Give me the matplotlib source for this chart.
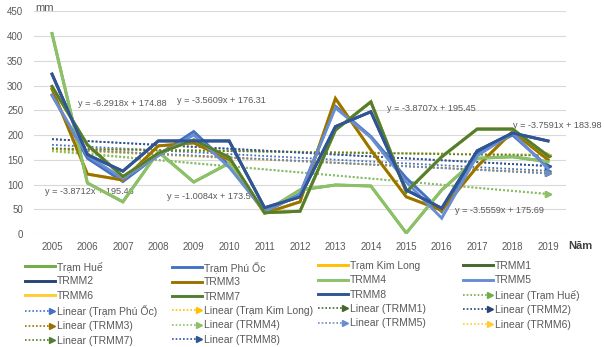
import matplotlib
matplotlib.use("Agg")
import matplotlib.pyplot as plt
import numpy as np
from matplotlib.lines import Line2D
from matplotlib.legend_handler import HandlerBase

plt.rcParams['font.family'] = ['Liberation Sans', 'DejaVu Sans']

years = [str(y) for y in range(2005, 2020)]

series_names = ["Trạm Huế", "Trạm Phú Ốc", "Trạm Kim Long", "TRMM1", "TRMM2",
                "TRMM3", "TRMM4", "TRMM5", "TRMM6", "TRMM7", "TRMM8"]

tram_hue    = [405, 103, 65, 166, 105, 143, 45, 89, 99, 97, 2, 89, 153, 156, 146]
tram_phu_oc = [281, 153, 106, 160, 207, 139, 44, 81, 258, 197, 113, 45, 163, 200, 136]
tram_kim_long = [293, 121, 109, 178, 184, 150, 42, 65, 273, 170, 75, 48, 136, 207, 150]
trmm1 = [298, 180, 116, 163, 190, 155, 43, 46, 210, 267, 85, 156, 212, 212, 158]
trmm2 = [323, 160, 127, 188, 188, 188, 53, 75, 217, 247, 89, 52, 168, 204, 188]
trmm3 = [293, 121, 109, 178, 184, 150, 42, 65, 274, 170, 75, 48, 136, 207, 150]
trmm4 = [405, 103, 65, 166, 105, 143, 45, 89, 99, 97, 2, 89, 153, 156, 146]
trmm5 = [280, 158, 112, 158, 200, 135, 46, 80, 255, 195, 105, 32, 158, 204, 132]
trmm6 = [298, 180, 116, 163, 190, 155, 43, 46, 210, 267, 85, 156, 212, 212, 158]
trmm7 = [298, 180, 116, 163, 190, 155, 43, 46, 210, 267, 85, 156, 212, 212, 158]
trmm8 = [323, 160, 127, 188, 188, 188, 53, 75, 217, 247, 89, 52, 168, 204, 188]

series_values = [tram_hue, tram_phu_oc, tram_kim_long, trmm1, trmm2,
                 trmm3, trmm4, trmm5, trmm6, trmm7, trmm8]

colors = ["#70AD47", "#4472C4", "#FFC000", "#43682B", "#264478",
          "#997300", "#8CC168", "#698ED0", "#FFCD33", "#507E32", "#2F5597"]

# Trend equations shown on the chart (x = 1..15): series -> (slope, intercept)
trend_coef = {
    "Trạm Huế": (-6.2918, 174.88),
    "Trạm Phú Ốc": (-3.7591, 183.98),
    "TRMM2": (-3.8712, 195.46),
    "TRMM3": (-3.5609, 176.31),
    "TRMM5": (-3.5559, 175.69),
    "TRMM7": (-1.0084, 173.5),
    "TRMM8": (-3.8707, 195.45),
}
# label text, anchor (category index, value)
trend_labels = [
    ("y = -6.2918x + 174.88", 0.73, 263),
    ("y = -3.5609x + 176.31", 3.53, 269),
    ("y = -3.8712x + 195.46", -0.2, 85),
    ("y = -1.0084x + 173.5", 3.25, 75),
    ("y = -3.8707x + 195.45", 9.46, 253),
    ("y = -3.7591x + 183.98", 13.0, 220),
    ("y = -3.5559x + 175.69", 11.37, 48),
]

fig = plt.figure(figsize=(6.04, 3.47), dpi=100)
ax = fig.add_axes([0.0568, 0.3256, 0.8798, 0.642])

x = np.arange(len(years))
xe = x + 1

for name, vals, c in zip(series_names, series_values, colors):
    if name in trend_coef:
        m, b = trend_coef[name]
    else:
        m, b = np.polyfit(xe, vals, 1)
    ty = m * xe + b
    ax.plot(x, ty, linestyle=(0, (1, 1.2)), color=c, lw=1.3, zorder=2)
    ax.plot([x[-1]], [ty[-1]], marker='>', color=c, markersize=5, zorder=2,
            linestyle='none')

for name, vals, c in zip(series_names, series_values, colors):
    ax.plot(x, vals, color=c, lw=2.1, zorder=3, solid_joinstyle='miter')

for txt, tx, ty in trend_labels:
    ax.text(tx, ty, txt, fontsize=6.6, color="#595959", ha='left', va='center', zorder=1)

ax.set_xlim(-0.5, len(years) - 0.5)
ax.set_ylim(0, 450)
ax.set_yticks(range(0, 451, 50))
ax.set_xticks(x)
ax.set_xticklabels(years)
ax.grid(axis='y', color="#D9D9D9", lw=0.8, zorder=0)
ax.set_axisbelow(True)
for s in ax.spines.values():
    s.set_visible(False)
ax.tick_params(axis='both', length=0, labelsize=7, colors="#595959", pad=6)
ax.tick_params(axis='y', pad=8)

fig.text(35 / 604, 1 - 8 / 347, "mm", fontsize=8, color="#595959", ha='left', va='center')
fig.text(568 / 604, 1 - 246 / 347, "Năm", fontsize=8, color="#404040", ha='left',
         va='center', fontweight='bold')


class TrendHandler(HandlerBase):
    def create_artists(self, legend, orig_handle, xdescent, ydescent, width,
                       height, fontsize, trans):
        y = height / 2 - ydescent
        ln = Line2D([-xdescent, width - xdescent - 3], [y, y],
                    color=orig_handle.get_color(), lw=1.2, linestyle=(0, (1, 1.2)))
        mk = Line2D([width - xdescent - 2], [y], marker='>', markersize=5,
                    color=orig_handle.get_color(), linestyle='none')
        ln.set_transform(trans)
        mk.set_transform(trans)
        return [ln, mk]


class TrendKey(Line2D):
    pass


entries = []
for name, c in zip(series_names, colors):
    entries.append((Line2D([], [], color=c, lw=2.1), name))
for name, c in zip(series_names, colors):
    entries.append((TrendKey([], [], color=c), "Linear (" + name + ")"))

col_x = [25, 172, 318, 463]
for ci in range(4):
    items = entries[ci::4]
    leg = fig.legend([h for h, _ in items], [l for _, l in items],
                     loc='upper left', bbox_to_anchor=(col_x[ci] / 604, 1 - 261 / 347),
                     frameon=False, fontsize=7.5, handlelength=2.9, handletextpad=0.2,
                     labelspacing=0.42, borderaxespad=0, borderpad=0,
                     handler_map={TrendKey: TrendHandler()})
    for t in leg.get_texts():
        t.set_color("#595959")

fig.savefig("out.png", dpi=100)
